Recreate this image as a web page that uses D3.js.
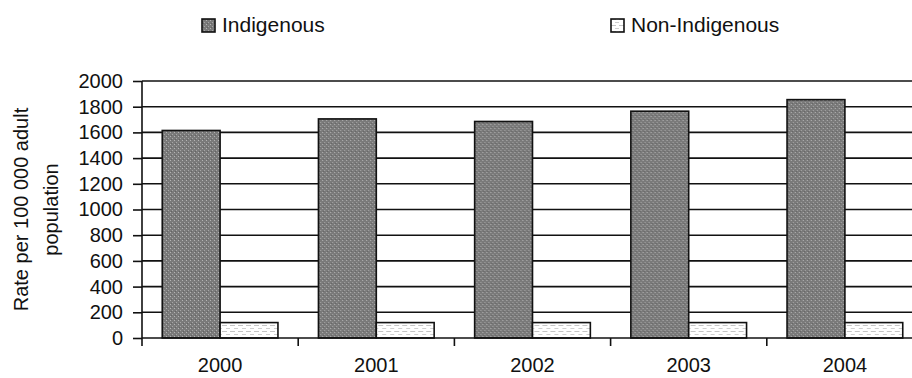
<!DOCTYPE html>
<html>
<head>
<meta charset="utf-8">
<script src="https://cdn.jsdelivr.net/npm/d3@7"></script>
<style>
  html, body { margin: 0; padding: 0; background: #fff; overflow: hidden; }
  svg { display: block; font-family: "Liberation Sans", Arial, sans-serif; }
</style>
</head>
<body>
<svg id="chart" width="912" height="378"></svg>
<script>
// Imprisonment rate per 100 000 adult population, by year
const years = ["2000", "2001", "2002", "2003", "2004"];
const seriesNames = ["Indigenous", "Non-Indigenous"];
const indigenous = [1615, 1705, 1685, 1765, 1855];
const nonIndigenous = [120, 120, 120, 120, 120];
const yTicks = [0, 200, 400, 600, 800, 1000, 1200, 1400, 1600, 1800, 2000];
const yTitleLines = ["Rate per 100 000 adult", "population"];

const svg = d3.select("#chart");
const plot = { left: 142, right: 923, top: 81, bottom: 338 };

// fill patterns
const defs = svg.append("defs");
const pDark = defs.append("pattern")
  .attr("id", "patDark").attr("patternUnits", "userSpaceOnUse")
  .attr("width", 4).attr("height", 4);
pDark.append("rect").attr("width", 4).attr("height", 4).attr("fill", "#7a7a7a");
pDark.append("rect").attr("x", 0).attr("y", 0).attr("width", 1).attr("height", 1).attr("fill", "#b4b4b4");
pDark.append("rect").attr("x", 2).attr("y", 2).attr("width", 1).attr("height", 1).attr("fill", "#a6a6a6");
pDark.append("rect").attr("x", 1).attr("y", 3).attr("width", 1).attr("height", 1).attr("fill", "#646464");

const pLight = defs.append("pattern")
  .attr("id", "patLight").attr("patternUnits", "userSpaceOnUse")
  .attr("width", 8).attr("height", 6);
pLight.append("rect").attr("width", 8).attr("height", 6).attr("fill", "#ffffff");
pLight.append("rect").attr("x", 0).attr("y", 1).attr("width", 5).attr("height", 1).attr("fill", "#c4c4c4");
pLight.append("rect").attr("x", 4).attr("y", 4).attr("width", 5).attr("height", 1).attr("fill", "#cfcfcf");

const fills = ["url(#patDark)", "url(#patLight)"];

// scales
const x0 = d3.scaleBand().domain(years).range([plot.left, plot.right]).paddingInner(0).paddingOuter(0);
const x1 = d3.scaleBand().domain(seriesNames).range([0, x0.bandwidth()]).paddingInner(0).paddingOuter(0.35);
const y = d3.scaleLinear().domain([0, 2000]).range([plot.bottom, plot.top]);

const lineColor = "#111";

// horizontal gridlines
svg.append("g").selectAll("line")
  .data(yTicks.filter(d => d > 0))
  .join("line")
  .attr("x1", plot.left).attr("x2", plot.right)
  .attr("y1", d => y(d)).attr("y2", d => y(d))
  .attr("stroke", lineColor).attr("stroke-width", 1.6);

// bars
const rows = years.map((yr, i) => ({ year: yr, values: [indigenous[i], nonIndigenous[i]] }));
const groups = svg.append("g").selectAll("g")
  .data(rows).join("g")
  .attr("transform", d => `translate(${x0(d.year)},0)`);
groups.selectAll("rect")
  .data(d => d.values.map((v, k) => ({ key: seriesNames[k], value: v, k })))
  .join("rect")
  .attr("x", d => x1(d.key))
  .attr("width", x1.bandwidth())
  .attr("y", d => y(d.value))
  .attr("height", d => y(0) - y(d.value))
  .attr("fill", d => fills[d.k])
  .attr("stroke", lineColor).attr("stroke-width", 1.6);

// y axis
const yAxis = svg.append("g")
  .attr("transform", `translate(${plot.left},0)`)
  .call(d3.axisLeft(y).tickValues(yTicks).tickFormat(d3.format("d")).tickSize(9).tickSizeOuter(0).tickPadding(10));
yAxis.select(".domain").remove();
yAxis.selectAll(".tick line").attr("stroke", lineColor).attr("stroke-width", 1.6);
yAxis.selectAll(".tick text").attr("font-size", 20).attr("fill", "#111")
  .attr("font-family", "'Liberation Sans', Arial, sans-serif");

// vertical axis line
svg.append("line")
  .attr("x1", plot.left).attr("x2", plot.left)
  .attr("y1", plot.top).attr("y2", plot.bottom + 8)
  .attr("stroke", lineColor).attr("stroke-width", 1.6);

// x axis baseline and category boundary ticks
svg.append("line")
  .attr("x1", plot.left).attr("x2", plot.right)
  .attr("y1", plot.bottom).attr("y2", plot.bottom)
  .attr("stroke", lineColor).attr("stroke-width", 1.6);
svg.append("g").selectAll("line")
  .data(years.slice(1))
  .join("line")
  .attr("x1", d => x0(d)).attr("x2", d => x0(d))
  .attr("y1", plot.bottom).attr("y2", plot.bottom + 8)
  .attr("stroke", lineColor).attr("stroke-width", 1.6);

// x labels
const xAxis = svg.append("g")
  .attr("transform", `translate(0,${plot.bottom})`)
  .call(d3.axisBottom(x0).tickSize(0).tickPadding(20));
xAxis.select(".domain").remove();
xAxis.selectAll(".tick text").attr("font-size", 20).attr("fill", "#111")
  .attr("font-family", "'Liberation Sans', Arial, sans-serif");

// y title
const yMid = (plot.top + plot.bottom) / 2;
svg.append("g").selectAll("text")
  .data(yTitleLines).join("text")
  .attr("transform", (d, i) => `translate(${i === 0 ? 28 : 58},${yMid}) rotate(-90)`)
  .attr("text-anchor", "middle")
  .attr("font-size", 20).attr("fill", "#111")
  .text(d => d);

// legend
const legendPos = [202, 611];
const leg = svg.append("g").selectAll("g")
  .data(seriesNames).join("g")
  .attr("transform", (d, i) => `translate(${legendPos[i]},0)`);
leg.append("rect")
  .attr("x", 0).attr("y", 19).attr("width", 13).attr("height", 13)
  .attr("fill", (d, i) => fills[i])
  .attr("stroke", lineColor).attr("stroke-width", 1.6);
leg.append("text")
  .attr("x", 20).attr("y", 32)
  .attr("font-size", 21).attr("fill", "#111")
  .text(d => d);
</script>
</body>
</html>
